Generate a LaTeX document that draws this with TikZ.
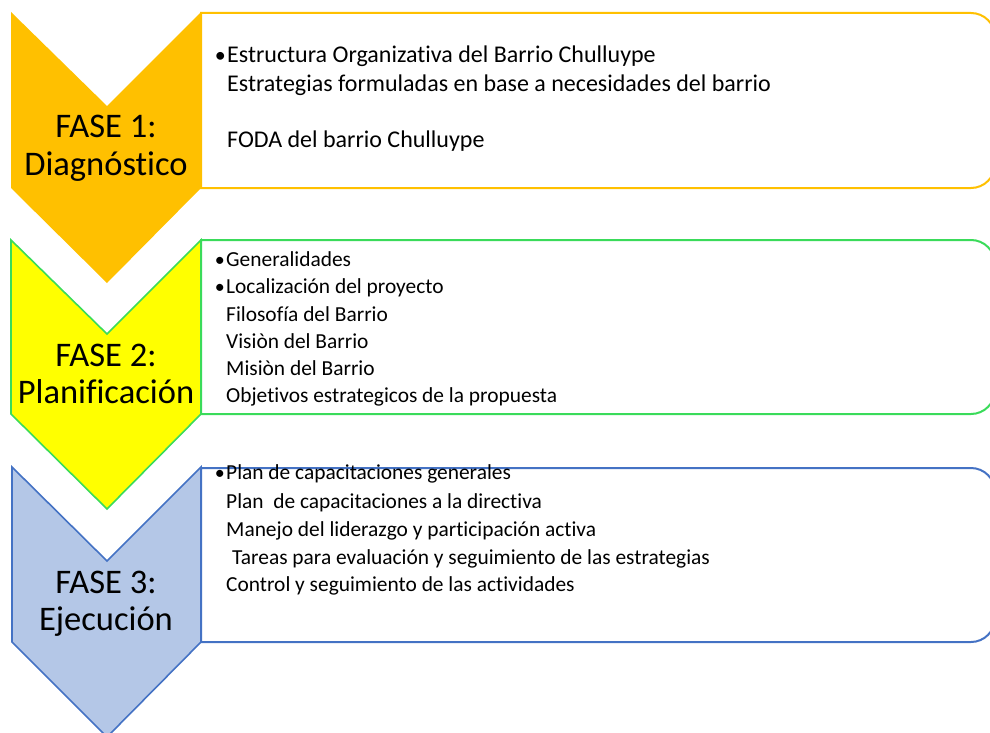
\documentclass[tikz,border=0pt]{standalone}
\usepackage{fontspec}
\setmainfont{Carlito}[Ligatures=NoCommon]
\definecolor{orng}{HTML}{FFC000}
\definecolor{grn}{HTML}{3ADB5A}
\definecolor{yel}{HTML}{FFFF00}
\definecolor{blu}{HTML}{4472C4}
\definecolor{lblu}{HTML}{B4C7E7}
\tikzset{
  phase/.style={anchor=base, inner sep=0pt, font=\fontsize{34.5}{37}\selectfont, text=black},
  bigitem/.style={anchor=base west, inner sep=0pt, font=\fontsize{24}{28}\selectfont},
  smallitem/.style={anchor=base west, inner sep=0pt, font=\fontsize{21.4}{27}\selectfont},
  bigbul/.style={anchor=base east, inner sep=0pt, font=\fontsize{22}{22}\selectfont},
  smallbul/.style={anchor=base east, inner sep=0pt, font=\fontsize{20}{20}\selectfont},
  boxline/.style={line width=2pt, fill=white},
}
\begin{document}
\begin{tikzpicture}[x=1pt,y=-1pt]
\useasboundingbox (0,0) rectangle (990,733);
\clip (0,0) rectangle (990,733);
% Phase 1
\draw[boxline, draw=orng] (201,13) [rounded corners=24]-- (995,13) -- (995,188) [sharp corners]-- (201,188) -- cycle;
\fill[orng] (11,12) -- (107,106) -- (201,12) -- (201,188) -- (107,283) -- (11,188) -- cycle;
\node[phase] (f1a) at (106,138) {FASE 1:};
\node[phase] (f1b) at (106,175.5) {Diagnóstico};
\node[bigitem] (a1) at (227,63) {Estructura Organizativa del Barrio Chulluype};
\node[bigbul] (b1) at (226,63) {•};
\node[bigitem] (a2) at (227,92) {Estrategias formuladas en base a necesidades del barrio};
\node[bigitem] (a3) at (227,147) {FODA del barrio Chulluype};
% Phase 2
\draw[boxline, draw=grn] (201,240) [rounded corners=24]-- (995,240) -- (995,414) [sharp corners]-- (201,414) -- cycle;
\draw[line width=1.6pt, draw=grn, fill=yel, line join=miter] (11,240) -- (107,334) -- (201,240) -- (201,414) -- (107,509) -- (11,414) -- cycle;
\node[phase] (f2a) at (106,366) {FASE 2:};
\node[phase] (f2b) at (106,403) {Planificación};
\node[smallitem] (c1) at (226,266) {Generalidades};
\node[smallbul] (b2) at (225,266) {•};
\node[smallitem] (c2) at (226,293) {Localización del proyecto};
\node[smallbul] (b3) at (225,293) {•};
\node[smallitem] (c3) at (226,321) {Filosofía del Barrio};
\node[smallitem] (c4) at (226,348) {Visiòn del Barrio};
\node[smallitem] (c5) at (226,375) {Misiòn del Barrio};
\node[smallitem] (c6) at (226,402) {Objetivos estrategicos de la propuesta};
% Phase 3
\draw[boxline, draw=blu] (201,468) [rounded corners=24]-- (995,468) -- (995,642) [sharp corners]-- (201,642) -- cycle;
\draw[line width=1.6pt, draw=blu, fill=lblu, line join=miter] (12,467) -- (107,561) -- (201,467) -- (201,642) -- (107,737) -- (12,642) -- cycle;
\node[phase] (f3a) at (106,593) {FASE 3:};
\node[phase] (f3b) at (106,630.5) {Ejecución};
\node[smallitem] (d1) at (226,479) {Plan de capacitaciones generales};
\node[smallbul] (b4) at (225,479) {•};
\node[smallitem] (d2) at (226,508) {Plan \ de capacitaciones a la directiva};
\node[smallitem] (d3) at (226,536) {Manejo del liderazgo y participación activa};
\node[smallitem] (d4) at (232,564) {Tareas para evaluación y seguimiento de las estrategias};
\node[smallitem] (d5) at (226,591) {Control y seguimiento de las actividades};
\end{tikzpicture}
\end{document}
